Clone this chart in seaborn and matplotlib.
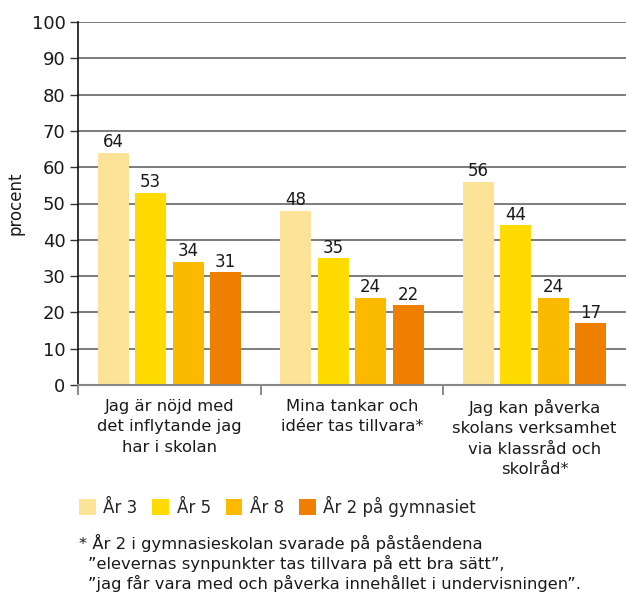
import matplotlib
matplotlib.use("Agg")
import matplotlib.pyplot as plt
import seaborn as sns
import pandas as pd
from matplotlib.patches import Patch
from matplotlib.ticker import FixedLocator

categories = ["Jag är nöjd med\ndet inflytande jag\nhar i skolan",
              "Mina tankar och\nidéer tas tillvara*",
              "Jag kan påverka\nskolans verksamhet\nvia klassråd och\nskolråd*"]
series = ["År 3", "År 5", "År 8", "År 2 på gymnasiet"]
ar3 = [64, 48, 56]
ar5 = [53, 35, 44]
ar8 = [34, 24, 24]
ar2g = [31, 22, 17]
colors = ["#FDE398", "#FFDB00", "#FBBA00", "#EE7F00"]
yticks = [0, 10, 20, 30, 40, 50, 60, 70, 80, 90, 100]
footnote = ["* ", "År 2 i gymnasieskolan svarade på påståendena",
            "”elevernas synpunkter tas tillvara på ett bra sätt”,",
            "”jag får vara med och påverka innehållet i undervisningen”."]

rows = []
for s, vals in zip(series, [ar3, ar5, ar8, ar2g]):
    for c, v in zip(categories, vals):
        rows.append({"kategori": c, "serie": s, "procent": v})
df = pd.DataFrame(rows)

sns.set_theme(style="white")
plt.rcParams["font.family"] = ["DejaVu Sans"]

fig = plt.figure(figsize=(6.26, 5.98), dpi=100)
ax = fig.add_axes([78 / 626, 1 - 385 / 598, 1 - 78 / 626, (385 - 22) / 598])

sns.barplot(data=df, x="kategori", y="procent", hue="serie", order=categories,
            hue_order=series, palette=colors, width=0.82, gap=0.17,
            saturation=1, ax=ax, legend=False, linewidth=0, edgecolor="none")

ax.set_ylim(0, 100)
ax.set_xlim(-0.5, 2.5)
ax.set_yticks(yticks)
ax.yaxis.grid(True, color="#666666", linewidth=1.2)
ax.set_axisbelow(True)
ax.tick_params(axis="y", which="major", direction="out", length=6, width=1,
               color="#333333", labelsize=13, pad=3, left=True, labelcolor="#1a1a1a")
ax.set_xticks([0, 1, 2])
ax.set_xticklabels(categories, fontsize=11.8, color="#1a1a1a", linespacing=1.45)
ax.tick_params(axis="x", which="major", length=0, pad=10)
ax.xaxis.set_minor_locator(FixedLocator([-0.5, 0.5, 1.5]))
ax.tick_params(axis="x", which="minor", direction="out", length=7, width=1.2,
               color="#777777", bottom=True)
for sp in ["top", "right"]:
    ax.spines[sp].set_visible(False)
ax.spines["left"].set_color("#111111")
ax.spines["left"].set_linewidth(1.2)
ax.spines["bottom"].set_color("#888888")
ax.spines["bottom"].set_linewidth(1.5)
ax.set_xlabel("")
ax.set_ylabel("procent", fontsize=12, color="#1a1a1a", labelpad=5)

for cont in ax.containers:
    ax.bar_label(cont, fmt="%d", padding=1, fontsize=12, color="#1a1a1a")

handles = [Patch(facecolor=c, edgecolor="none") for c in colors]
fig.legend(handles, series, loc="center left", bbox_to_anchor=(79 / 626, 1 - 506 / 598),
           ncol=4, frameon=False, fontsize=12, handlelength=1.0, handleheight=1.1,
           handletextpad=0.45, columnspacing=0.9, borderaxespad=0, borderpad=0)

fig.text(79 / 626, 1 - 543 / 598, footnote[0] + footnote[1], fontsize=11.8,
         color="#1a1a1a", va="center")
fig.text(88 / 626, 1 - 563 / 598, footnote[2], fontsize=11.8, color="#1a1a1a", va="center")
fig.text(88 / 626, 1 - 583 / 598, footnote[3], fontsize=11.8, color="#1a1a1a", va="center")

fig.savefig("out.png", dpi=100)
